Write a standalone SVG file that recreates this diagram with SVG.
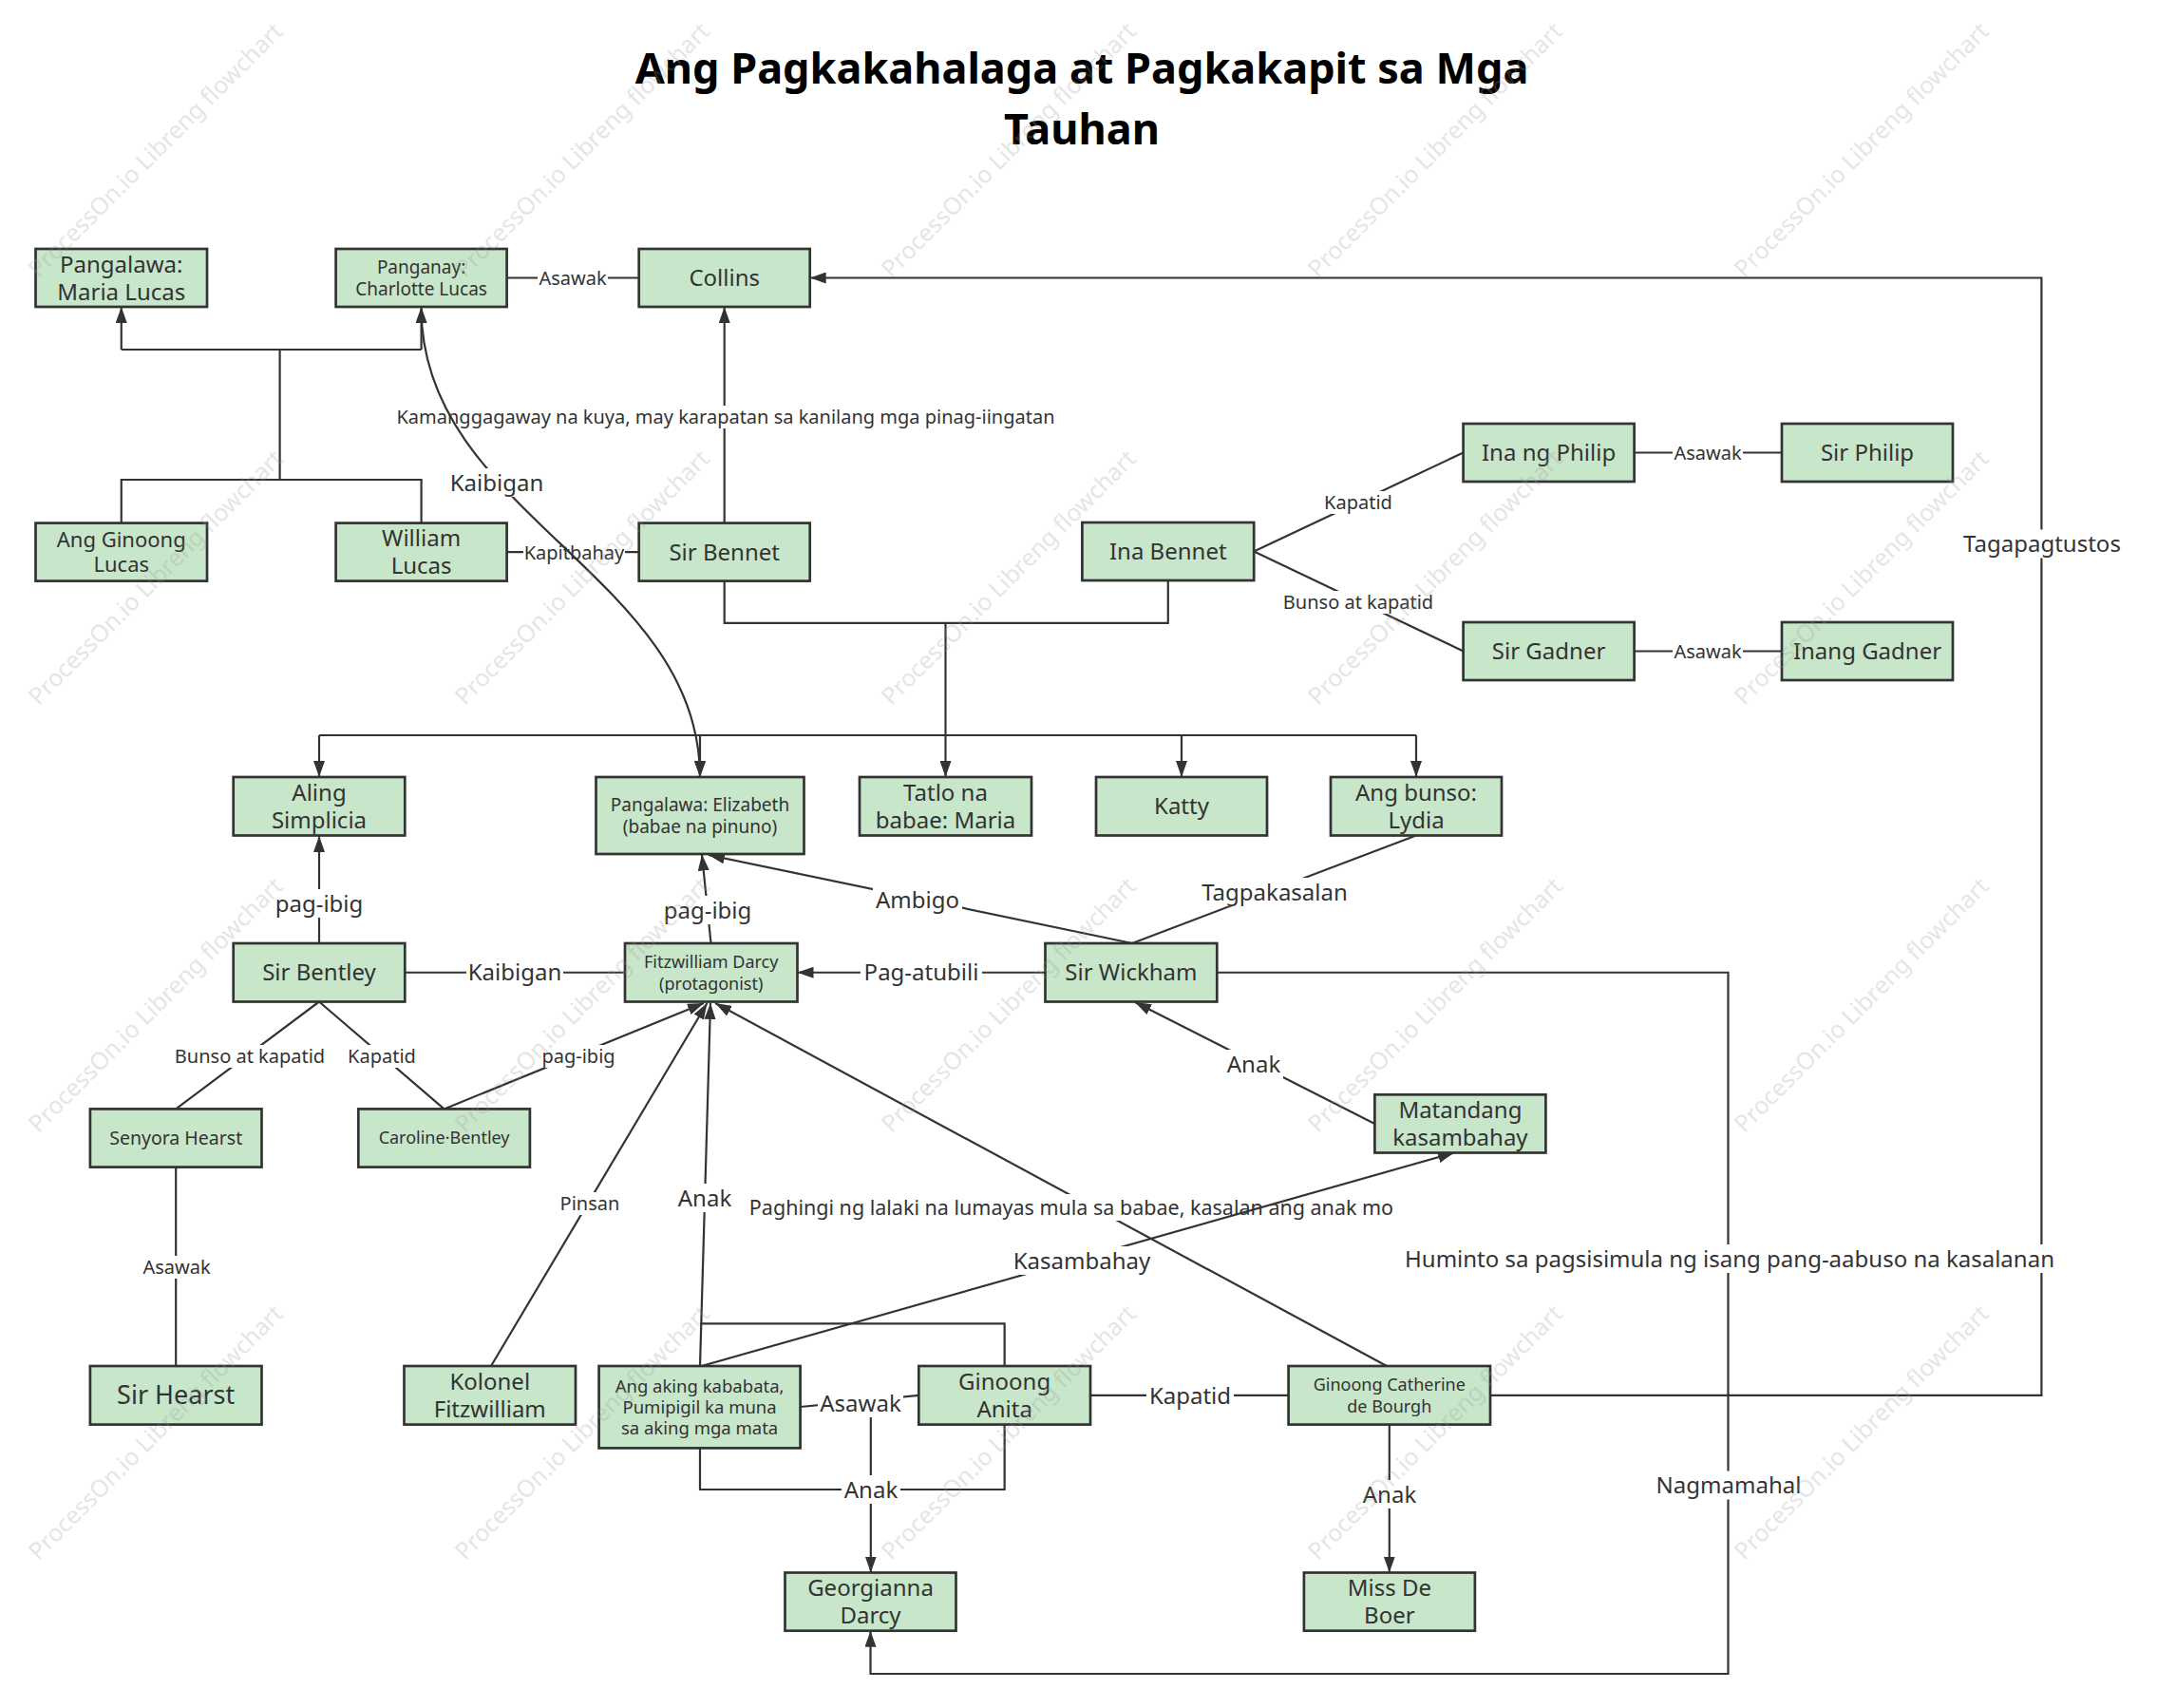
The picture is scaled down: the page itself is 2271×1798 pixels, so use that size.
<svg xmlns="http://www.w3.org/2000/svg" width="2271" height="1798" viewBox="0 0 2271 1798">
<style>
text{font-family:"Noto Sans","Open Sans","Liberation Sans",sans-serif;fill:#333;text-anchor:middle}
.ttl{font-size:45px;font-weight:bold;fill:#000}
.n{fill:#c8e6c9;stroke:#333;stroke-width:2.7}
.c{fill:none;stroke:#333;stroke-width:2.2}
.a{marker-end:url(#arr)}
.bg{fill:#fff}
.s{font-size:20px}
.l{font-size:24px}
.wm{font-size:25px;fill:#999;opacity:0.25}
</style>
<defs>
<marker id="arr" viewBox="0 0 17 12" refX="17" refY="6" markerWidth="17" markerHeight="12" markerUnits="userSpaceOnUse" orient="auto"><path d="M0,0 L17,6 L0,12 z" fill="#333"/></marker>
</defs>
<rect width="2271" height="1798" fill="#fff"/>
<g id="title">
<text class="ttl" x="1139" y="88">Ang Pagkakahalaga at Pagkakapit sa Mga</text>
<text class="ttl" x="1139" y="152">Tauhan</text>
</g>
<g id="connectors">
<path class="c" d="M127.75,550.6 V505 H443.6 V550.6 M294.6,505 V368 M127.75,368 H443.6"/>
<path class="c a" d="M127.75,368 V323"/>
<path class="c a" d="M443.6,368 V323"/>
<path class="c" d="M533.6,292.5 H672.7"/>
<path class="c a" d="M762.7,550.6 V323"/>
<path class="c" d="M533.6,581.1 H672.7"/>
<path class="c" d="M762.7,611.6 V655.8 H1229.8 V611 M336,774 H1491"/>
<path class="c a" d="M995.5,655.8 V818"/>
<path class="c a" d="M336,774 V818"/>
<path class="c a" d="M737,774 V818"/>
<path class="c a" d="M1244,774 V818"/>
<path class="c a" d="M1491,774 V818"/>
<path class="c" d="M1320.2,580.5 L1540.6,476.5 M1320.2,580.5 L1540.6,685.5"/>
<path class="c" d="M1720.6,476.5 H1876 M1720.6,685.5 H1876"/>
<path class="c a" d="M336,993 V880"/>
<path class="c a" d="M748.5,993 L739,899.5"/>
<path class="c a" d="M1192,993 L746,900"/>
<path class="c" d="M1491,879.5 L1192,993"/>
<path class="c" d="M426.3,1023.75 H658"/>
<path class="c a" d="M1100.5,1023.75 H839.5"/>
<path class="c" d="M336,1054.5 L185.2,1167.4 M336,1054.5 L467.6,1167.4"/>
<path class="c a" d="M467.6,1167.4 L741,1056"/>
<path class="c" d="M185.2,1228.6 V1438"/>
<path class="c a" d="M517,1438 L744.5,1056"/>
<path class="c a" d="M737,1438 L748,1056"/>
<path class="c" d="M1057.65,1438 V1393.3 H737"/>
<path class="c a" d="M1460,1438 L753,1056"/>
<path class="c a" d="M1447.4,1183 L1195,1055"/>
<path class="c a" d="M1281.3,1023.75 H1819.5 V1762 H916.5 V1716.7"/>
<path class="c a" d="M1569,1468.8 H2149.4 V292.5 H852.7"/>
<path class="c" d="M842.6,1481 L967.3,1468.8"/>
<path class="c a" d="M916.8,1477 V1655.5"/>
<path class="c" d="M737,1524.4 V1568 H1057.65 V1499.6"/>
<path class="c" d="M1148,1468.8 H1356.6"/>
<path class="c a" d="M1462.8,1499.6 V1655.5"/>

<rect class="bg" x="566" y="280.5" width="74" height="24"/><text class="s" x="603" y="299.6">Asawak</text>
<rect class="bg" x="419" y="427" width="690" height="24"/><text class="s" x="764" y="446.1">Kamanggagaway na kuya, may karapatan sa kanilang mga pinag-iingatan</text>
<rect class="bg" x="551" y="570" width="107" height="24"/><text class="s" x="604.5" y="589.1">Kapitbahay</text>
<rect class="bg" x="1392" y="517" width="76" height="24"/><text class="s" x="1430" y="536.1">Kapatid</text>
<rect class="bg" x="1350" y="622" width="160" height="24"/><text class="s" x="1430" y="641.1">Bunso at kapatid</text>
<rect class="bg" x="1761" y="464.5" width="74" height="24"/><text class="s" x="1798" y="483.6">Asawak</text>
<rect class="bg" x="1761" y="673.5" width="74" height="24"/><text class="s" x="1798" y="692.6">Asawak</text>
<rect class="bg" x="2066" y="557.5" width="168" height="30"/><text class="l" x="2150" y="581.1">Tagapagtustos</text>
<rect class="bg" x="286" y="936" width="100" height="30"/><text class="l" x="336" y="959.6">pag-ibig</text>
<rect class="bg" x="695" y="943" width="100" height="30"/><text class="l" x="745" y="966.6">pag-ibig</text>
<rect class="bg" x="919" y="932" width="94" height="30"/><text class="l" x="966" y="955.6">Ambigo</text>
<rect class="bg" x="1264" y="924" width="156" height="30"/><text class="l" x="1342" y="947.6">Tagpakasalan</text>
<rect class="bg" x="491" y="1008.75" width="102" height="30"/><text class="l" x="542" y="1032.35">Kaibigan</text>
<rect class="bg" x="906" y="1008.75" width="128" height="30"/><text class="l" x="970" y="1032.35">Pag-atubili</text>
<rect class="bg" x="183" y="1100" width="160" height="24"/><text class="s" x="263" y="1119.1">Bunso at kapatid</text>
<rect class="bg" x="364" y="1100" width="76" height="24"/><text class="s" x="402" y="1119.1">Kapatid</text>
<rect class="bg" x="568" y="1100" width="82" height="24"/><text class="s" x="609" y="1119.1">pag-ibig</text>
<rect class="bg" x="1289" y="1105" width="62" height="30"/><text class="l" x="1320" y="1128.6">Anak</text>
<rect class="bg" x="589" y="1255" width="64" height="24"/><text class="s" x="621" y="1274.1">Pinsan</text>
<rect class="bg" x="711" y="1246" width="62" height="30"/><text class="l" x="742" y="1269.6">Anak</text>
<rect class="bg" x="792" y="1257" width="672" height="28"/><text x="1128" y="1278.6" style="font-size:21.5px">Paghingi ng lalaki na lumayas mula sa babae, kasalan ang anak mo</text>
<rect class="bg" x="1472" y="1310" width="698" height="30"/><text class="l" x="1821" y="1333.6">Huminto sa pagsisimula ng isang pang-aabuso na kasalanan</text>
<rect class="bg" x="149" y="1322" width="74" height="24"/><text class="s" x="186" y="1341.1">Asawak</text>
<rect class="bg" x="861" y="1462" width="90" height="30"/><text class="l" x="906" y="1485.6">Asawak</text>
<rect class="bg" x="886" y="1553" width="62" height="30"/><text class="l" x="917" y="1576.6">Anak</text>
<rect class="bg" x="1207" y="1454" width="92" height="30"/><text class="l" x="1253" y="1477.6">Kapatid</text>
<rect class="bg" x="1432" y="1558" width="62" height="30"/><text class="l" x="1463" y="1581.6">Anak</text>
<rect class="bg" x="1742" y="1548.5" width="156" height="30"/><text class="l" x="1820" y="1572.1">Nagmamahal</text>

<path class="c a" d="M443.6,325 C443.6,540 737,606 737,818"/>
<rect class="bg" x="472" y="493" width="102" height="30"/><text class="l" x="523" y="516.6">Kaibigan</text>
<path class="c a" d="M738.5,1438 L1531,1213.5"/>
<rect class="bg" x="1066" y="1312" width="146" height="30"/><text class="l" x="1139" y="1335.6">Kasambahay</text>
</g>
<g id="maria"><rect class="n" x="37.5" y="262" width="180.5" height="61"/><text class="l" x="127.75" y="286.5">Pangalawa:</text><text class="l" x="127.75" y="315.5">Maria Lucas</text></g>
<g id="charlotte"><rect class="n" x="353.6" y="262" width="180" height="61"/><text x="443.6" y="287.8" style="font-size:19px">Panganay:</text><text x="443.6" y="310.8" style="font-size:19px">Charlotte Lucas</text></g>
<g id="collins"><rect class="n" x="672.7" y="262" width="180" height="61"/><text class="l" x="762.7" y="301.1">Collins</text></g>
<g id="ginoong-lucas"><rect class="n" x="37.5" y="550.6" width="180.5" height="61"/><text x="127.75" y="576" style="font-size:22px">Ang Ginoong</text><text x="127.75" y="602" style="font-size:22px">Lucas</text></g>
<g id="william"><rect class="n" x="353.6" y="550.6" width="180" height="61"/><text class="l" x="443.6" y="575.2">William</text><text class="l" x="443.6" y="604.2">Lucas</text></g>
<g id="bennet"><rect class="n" x="672.7" y="550.6" width="180" height="61"/><text class="l" x="762.7" y="589.7">Sir Bennet</text></g>
<g id="ina-bennet"><rect class="n" x="1139.4" y="550" width="180.8" height="61"/><text class="l" x="1229.8" y="589.1">Ina Bennet</text></g>
<g id="ina-philip"><rect class="n" x="1540.6" y="446" width="180" height="61"/><text class="l" x="1630.6" y="485.1">Ina ng Philip</text></g>
<g id="sir-philip"><rect class="n" x="1876" y="446" width="180" height="61"/><text class="l" x="1966" y="485.1">Sir Philip</text></g>
<g id="sir-gadner"><rect class="n" x="1540.6" y="655" width="180" height="61"/><text class="l" x="1630.6" y="694.1">Sir Gadner</text></g>
<g id="inang-gadner"><rect class="n" x="1876" y="655" width="180" height="61"/><text class="l" x="1966" y="694.1">Inang Gadner</text></g>
<g id="simplicia"><rect class="n" x="245.7" y="818" width="180.6" height="61.5"/><text class="l" x="336" y="842.8">Aling</text><text class="l" x="336" y="871.8">Simplicia</text></g>
<g id="elizabeth"><rect class="n" x="627.5" y="818" width="219" height="81"/><text x="737" y="853.8" style="font-size:19px">Pangalawa: Elizabeth</text><text x="737" y="876.8" style="font-size:19px">(babae na pinuno)</text></g>
<g id="tatlo"><rect class="n" x="905" y="818" width="181" height="61.5"/><text class="l" x="995.5" y="842.8">Tatlo na</text><text class="l" x="995.5" y="871.8">babae: Maria</text></g>
<g id="katty"><rect class="n" x="1154" y="818" width="180" height="61.5"/><text class="l" x="1244" y="857.35">Katty</text></g>
<g id="lydia"><rect class="n" x="1401" y="818" width="180" height="61.5"/><text class="l" x="1491" y="842.8">Ang bunso:</text><text class="l" x="1491" y="871.8">Lydia</text></g>
<g id="bentley"><rect class="n" x="245.7" y="993" width="180.6" height="61.5"/><text class="l" x="336" y="1032.35">Sir Bentley</text></g>
<g id="darcy"><rect class="n" x="658" y="993" width="181.5" height="61.5"/><text x="748.75" y="1019" style="font-size:18px">Fitzwilliam Darcy</text><text x="748.75" y="1041.5" style="font-size:18px">(protagonist)</text></g>
<g id="wickham"><rect class="n" x="1100.5" y="993" width="180.8" height="61.5"/><text class="l" x="1190.9" y="1032.35">Sir Wickham</text></g>
<g id="senyora-hearst"><rect class="n" x="94.9" y="1167.4" width="180.6" height="61.2"/><text x="185.2" y="1205" style="font-size:19.5px">Senyora Hearst</text></g>
<g id="caroline"><rect class="n" x="377.3" y="1167.4" width="180.6" height="61.2"/><text x="467.6" y="1204.4" style="font-size:18px">Caroline·Bentley</text></g>
<g id="matandang"><rect class="n" x="1447.4" y="1152.3" width="180" height="61.2"/><text class="l" x="1537.4" y="1177">Matandang</text><text class="l" x="1537.4" y="1206">kasambahay</text></g>
<g id="sir-hearst"><rect class="n" x="94.9" y="1438" width="180.6" height="61.6"/><text x="185.2" y="1478.4" style="font-size:27px">Sir Hearst</text></g>
<g id="kolonel"><rect class="n" x="425.5" y="1438" width="180.5" height="61.6"/><text class="l" x="515.75" y="1462.85">Kolonel</text><text class="l" x="515.75" y="1491.85">Fitzwilliam</text></g>
<g id="kababata"><rect class="n" x="630.6" y="1438" width="212" height="86.4"/><text x="736.6" y="1465.8" style="font-size:18.5px">Ang aking kababata,</text><text x="736.6" y="1487.8" style="font-size:18.5px">Pumipigil ka muna</text><text x="736.6" y="1509.8" style="font-size:18.5px">sa aking mga mata</text></g>
<g id="anita"><rect class="n" x="967.3" y="1438" width="180.7" height="61.6"/><text class="l" x="1057.65" y="1462.85">Ginoong</text><text class="l" x="1057.65" y="1491.85">Anita</text></g>
<g id="catherine"><rect class="n" x="1356.6" y="1438" width="212.4" height="61.6"/><text x="1462.8" y="1464" style="font-size:18px">Ginoong Catherine</text><text x="1462.8" y="1486.5" style="font-size:18px">de Bourgh</text></g>
<g id="georgianna"><rect class="n" x="826.5" y="1655.5" width="180" height="61.2"/><text class="l" x="916.5" y="1680.15">Georgianna</text><text class="l" x="916.5" y="1709.15">Darcy</text></g>
<g id="miss-de-boer"><rect class="n" x="1372.9" y="1655.5" width="180" height="61.2"/><text class="l" x="1462.9" y="1680.15">Miss De</text><text class="l" x="1462.9" y="1709.15">Boer</text></g>
<g id="watermark">
<text class="wm" x="170" y="164" transform="rotate(-45 170 164)">ProcessOn.io Libreng flowchart</text>
<text class="wm" x="619" y="164" transform="rotate(-45 619 164)">ProcessOn.io Libreng flowchart</text>
<text class="wm" x="1068" y="164" transform="rotate(-45 1068 164)">ProcessOn.io Libreng flowchart</text>
<text class="wm" x="1517" y="164" transform="rotate(-45 1517 164)">ProcessOn.io Libreng flowchart</text>
<text class="wm" x="1966" y="164" transform="rotate(-45 1966 164)">ProcessOn.io Libreng flowchart</text>
<text class="wm" x="170" y="614" transform="rotate(-45 170 614)">ProcessOn.io Libreng flowchart</text>
<text class="wm" x="619" y="614" transform="rotate(-45 619 614)">ProcessOn.io Libreng flowchart</text>
<text class="wm" x="1068" y="614" transform="rotate(-45 1068 614)">ProcessOn.io Libreng flowchart</text>
<text class="wm" x="1517" y="614" transform="rotate(-45 1517 614)">ProcessOn.io Libreng flowchart</text>
<text class="wm" x="1966" y="614" transform="rotate(-45 1966 614)">ProcessOn.io Libreng flowchart</text>
<text class="wm" x="170" y="1064" transform="rotate(-45 170 1064)">ProcessOn.io Libreng flowchart</text>
<text class="wm" x="619" y="1064" transform="rotate(-45 619 1064)">ProcessOn.io Libreng flowchart</text>
<text class="wm" x="1068" y="1064" transform="rotate(-45 1068 1064)">ProcessOn.io Libreng flowchart</text>
<text class="wm" x="1517" y="1064" transform="rotate(-45 1517 1064)">ProcessOn.io Libreng flowchart</text>
<text class="wm" x="1966" y="1064" transform="rotate(-45 1966 1064)">ProcessOn.io Libreng flowchart</text>
<text class="wm" x="170" y="1514" transform="rotate(-45 170 1514)">ProcessOn.io Libreng flowchart</text>
<text class="wm" x="619" y="1514" transform="rotate(-45 619 1514)">ProcessOn.io Libreng flowchart</text>
<text class="wm" x="1068" y="1514" transform="rotate(-45 1068 1514)">ProcessOn.io Libreng flowchart</text>
<text class="wm" x="1517" y="1514" transform="rotate(-45 1517 1514)">ProcessOn.io Libreng flowchart</text>
<text class="wm" x="1966" y="1514" transform="rotate(-45 1966 1514)">ProcessOn.io Libreng flowchart</text>
</g>
</svg>
